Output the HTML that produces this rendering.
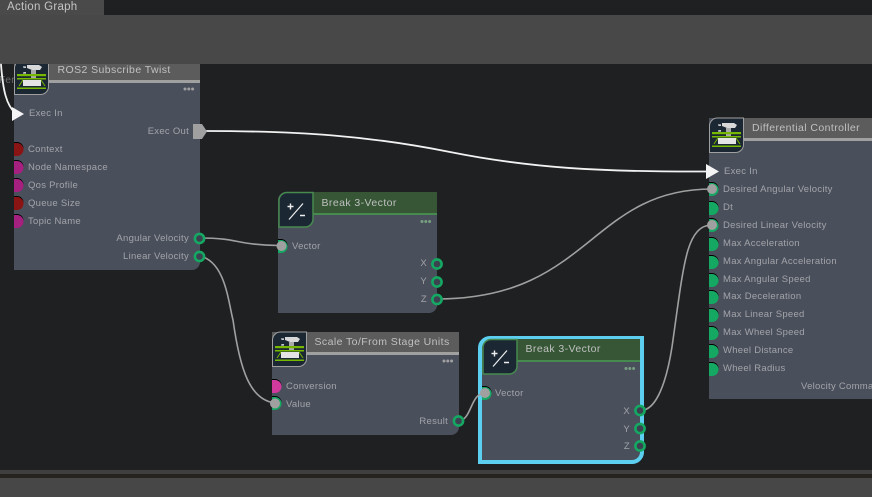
<!DOCTYPE html>
<html><head><meta charset="utf-8">
<style>
html,body{margin:0;padding:0;background:#1f2022;width:872px;height:497px;overflow:hidden}
svg{display:block}
text{font-family:"Liberation Sans",sans-serif;font-size:9.5px;fill:#a2a4a8;letter-spacing:.28px}
.t{font-size:10.5px;fill:#c0c0c0;letter-spacing:.42px}
.e{text-anchor:end}
</style></head><body>
<svg width="872" height="497" viewBox="0 0 872 497" xmlns="http://www.w3.org/2000/svg">
<defs>
<g id="ros">
<path d="M0.5 8a8 8 0 0 1 8-8H34.5V26a8 8 0 0 1-8 8.500H0.500Z" fill="#1b2733" stroke="#a0a0a0" stroke-width="1"/>
<path d="M9 7h3M9 13h3M11 7v1M11 13v-1" stroke="#fff" stroke-width="1" fill="none"/>
<path d="M13 5h12l3 2-2 3h-8l-5-2z" fill="#d8d8d8"/>
<rect x="17" y="10" width="5" height="8" fill="#aaa"/>
<rect x="3" y="14" width="29" height="2.200" fill="#76b900"/>
<rect x="3" y="18" width="29" height="1.500" fill="#76b900"/>
<path d="M5 26L9 20M27 20L31 26" stroke="#76b900" stroke-width="1" fill="none"/>
<rect x="3" y="27.500" width="29" height="1.500" fill="#76b900"/>
<rect x="9" y="20" width="18" height="6" fill="#e4e4e4"/>
</g>
<g id="math">
<path d="M1 8a8 8 0 0 1 8-8H35V26a8 8 0 0 1-8 8.500H1Z" fill="#1b2733" stroke="#478a4f" stroke-width="1.500"/>
<path d="M9.500 14h6M12.500 11v6M22 23h5" stroke="#eee" stroke-width="1.400" fill="none"/>
<path d="M11 27L25 11" stroke="#eee" stroke-width="1.200" fill="none"/>
</g>
<g id="dots"><circle cx="0" cy="0" r="1.500"/><circle cx="3.800" cy="0" r="1.500"/><circle cx="7.600" cy="0" r="1.500"/></g>
<g id="port">
<path d="M0 -1h3a6.500 6.500 0 0 1 6.500 6.500h-9.500Z" fill="#000"/>
<path d="M0 0h3a6.500 6.500 0 0 1 0 13h-3Z" fill="currentColor"/>
</g>
</defs>

<rect width="872" height="497" fill="#1f2022"/>
<text x="-1" y="83" style="font-size:10px;fill:#6a6a6a">Fer</text>

<!-- node 1 -->
<path d="M14 64H200V262a8 8 0 0 1-8 8H14Z" fill="#4a4f5c"/>
<rect x="14" y="64" width="186" height="16" fill="#5c5c5c"/>
<rect x="14" y="80" width="186" height="3" fill="#a0a0a0"/>
<use href="#ros" x="14" y="60"/>
<text class="t" x="57.500" y="73">ROS2 Subscribe Twist</text>
<use href="#dots" x="185" y="89" fill="#a0a0a0"/>
<text x="29" y="116">Exec In</text>
<text class="e" x="189" y="134">Exec Out</text>
<text x="28" y="152">Context</text>
<text x="28" y="170">Node Namespace</text>
<text x="28" y="188">Qos Profile</text>
<text x="28" y="206">Queue Size</text>
<text x="28" y="224">Topic Name</text>
<text class="e" x="189" y="241">Angular Velocity</text>
<text class="e" x="189" y="259">Linear Velocity</text>

<!-- top bands -->
<rect x="0" y="0" width="104" height="15" fill="#4a4a4a"/>
<rect x="0" y="15" width="872" height="49" fill="#484848"/>
<text x="7" y="10" style="font-size:11.500px;fill:#c4c4c4">Action Graph</text>

<!-- node 2 -->
<path d="M278 200a8 8 0 0 1 8-8H437V305a8 8 0 0 1-8 8H278Z" fill="#4a4f5c"/>
<path d="M290 192H437V213H290Z" fill="#365636"/>
<rect x="300" y="213" width="137" height="2" fill="#478a4f"/>
<use href="#math" x="278" y="192.500"/>
<text class="t" x="321.500" y="206">Break 3-Vector</text>
<use href="#dots" x="422" y="221.500" fill="#76a080"/>
<text x="292" y="249">Vector</text>
<text class="e" x="427" y="266">X</text>
<text class="e" x="427" y="284">Y</text>
<text class="e" x="427" y="302">Z</text>

<!-- node 3 -->
<path d="M272 332H459V427a8 8 0 0 1-8 8H272Z" fill="#4a4f5c"/>
<rect x="272" y="332" width="187" height="20" fill="#5c5c5c"/>
<rect x="300" y="352" width="159" height="3" fill="#a0a0a0"/>
<use href="#ros" x="272" y="332"/>
<text class="t" x="314.500" y="345">Scale To/From Stage Units</text>
<use href="#dots" x="444" y="361" fill="#a0a0a0"/>
<text x="286" y="389">Conversion</text>
<text x="286" y="407">Value</text>
<text class="e" x="448" y="424">Result</text>

<!-- node 4 -->
<path d="M480 348a10 10 0 0 1 10-10H642V452a10 10 0 0 1-10 10H480Z" fill="#4a4f5c" stroke="#5ccff0" stroke-width="4"/>
<rect x="508" y="339" width="132" height="21" fill="#365636"/>
<rect x="510" y="360" width="130" height="2" fill="#478a4f"/>
<use href="#math" x="482" y="339.500"/>
<text class="t" x="525.500" y="352">Break 3-Vector</text>
<use href="#dots" x="626" y="368.500" fill="#76a080"/>
<text x="495" y="396">Vector</text>
<text class="e" x="630" y="414">X</text>
<text class="e" x="630" y="432">Y</text>
<text class="e" x="630" y="449">Z</text>

<!-- node 5 -->
<rect x="709" y="118" width="163" height="281" fill="#4a4f5c"/>
<rect x="735" y="118" width="137" height="20" fill="#5c5c5c"/>
<rect x="735" y="138" width="137" height="3" fill="#a0a0a0"/>
<use href="#ros" x="709" y="118"/>
<text class="t" x="752" y="131">Differential Controller</text>
<text x="724" y="174">Exec In</text>
<text x="723" y="192">Desired Angular Velocity</text>
<text x="723" y="210">Dt</text>
<text x="723" y="228">Desired Linear Velocity</text>
<text x="723" y="246">Max Acceleration</text>
<text x="723" y="264">Max Angular Acceleration</text>
<text x="723" y="282">Max Angular Speed</text>
<text x="723" y="299">Max Deceleration</text>
<text x="723" y="317">Max Linear Speed</text>
<text x="723" y="335">Max Wheel Speed</text>
<text x="723" y="353">Wheel Distance</text>
<text x="723" y="371">Wheel Radius</text>
<text x="801" y="389">Velocity Comma</text>

<!-- connectors -->
<g fill="none" stroke-linecap="round">
<path d="M206 131C300 131 370 136 450 152C530 168 600 172 708 171.500" stroke="#f2f2f2" stroke-width="1.800"/>
<path d="M1 64.500C3 90 6 105 16 114" stroke="#f2f2f2" stroke-width="1.800"/>
<path d="M200 238C240 238 235 245 280 245.500" stroke="#a0a0a0" stroke-width="1.600"/>
<path d="M200 256C225 262 228 300 233 320C240 370 250 400 275 403" stroke="#a0a0a0" stroke-width="1.600"/>
<path d="M437 299C590 299 590 189 712 189" stroke="#a0a0a0" stroke-width="1.600"/>
<path d="M458 421C472 421 470 393 485 393" stroke="#a0a0a0" stroke-width="1.600"/>
<path d="M644 410C656 407 666 385 672 347C678 305 682 270 688 250C693 234 700 225 712 225" stroke="#a0a0a0" stroke-width="1.600"/>
</g>

<!-- input ports -->
<g style="color:#8a1414"><use href="#port" x="14" y="143"/><use href="#port" x="14" y="197"/></g>
<g style="color:#a6207f"><use href="#port" x="14" y="161"/><use href="#port" x="14" y="179"/><use href="#port" x="14" y="215"/></g>
<g style="color:#cf3a9c"><use href="#port" x="272" y="380"/></g>
<g style="color:#14a862">
<use href="#port" x="709" y="202"/>
<use href="#port" x="709" y="238"/>
<use href="#port" x="709" y="256"/>
<use href="#port" x="709" y="274"/>
<use href="#port" x="709" y="291"/>
<use href="#port" x="709" y="309"/>
<use href="#port" x="709" y="327"/>
<use href="#port" x="709" y="345"/>
<use href="#port" x="709" y="363"/>
<use href="#port" x="278" y="240"/>
<use href="#port" x="272" y="397"/>
<use href="#port" x="482" y="387"/>
<use href="#port" x="709" y="183"/>
<use href="#port" x="709" y="219"/>
</g>
<g fill="#a0a0a0">
<circle cx="281.500" cy="246" r="5"/>
<circle cx="275" cy="403.500" r="5"/>
<circle cx="485" cy="393" r="5"/>
<circle cx="712" cy="189" r="5"/>
<circle cx="712" cy="225" r="5"/>
</g>
<!-- output rings -->
<g fill="#3c4250" stroke="#14a862" stroke-width="2.600">
<circle cx="199.500" cy="238.500" r="4.600"/>
<circle cx="199.500" cy="256.500" r="4.600"/>
<circle cx="437" cy="264" r="4.600"/>
<circle cx="437" cy="282" r="4.600"/>
<circle cx="437" cy="299.500" r="4.600"/>
<circle cx="458.500" cy="421" r="4.600"/>
<circle cx="640" cy="410.500" r="4.600"/>
<circle cx="640" cy="428.500" r="4.600"/>
<circle cx="640" cy="446" r="4.600"/>
</g>
<!-- exec arrows -->
<path d="M12 107L24 114L12 121Z" fill="#f4f4f4"/>
<path d="M706 164L719 171.500L706 179Z" fill="#f4f4f4"/>
<path d="M193 124H202L207 131.500L202 139H193Z" fill="#a0a0a0"/>

<!-- bottom -->
<rect x="0" y="470" width="872" height="4" fill="#3f3f3f"/>
<rect x="0" y="474" width="872" height="4" fill="#26231f"/>
<rect x="0" y="478" width="872" height="19" fill="#474747"/>
</svg>
</body></html>
